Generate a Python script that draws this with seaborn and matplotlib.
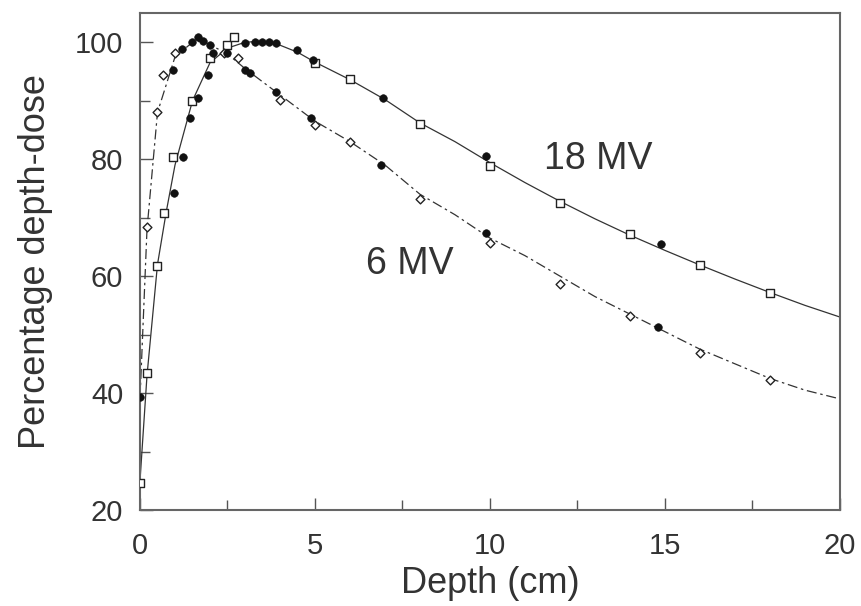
# Percentage depth-dose curves for 6 MV and 18 MV photon beams
import matplotlib
matplotlib.use("Agg")
import matplotlib.pyplot as plt
import numpy as np
import pandas as pd
import seaborn as sns
from matplotlib.ticker import MultipleLocator

# fitted curves
depth_18 = [0, 0.2, 0.5, 0.75, 1.0, 1.5, 2.0, 2.5, 3.0, 3.5, 4.0, 4.5, 5.0, 6, 7, 8,
            9, 10, 11, 12, 13, 14, 15, 16, 17, 18, 19, 20]
pdd_18 = [25, 43, 62, 71, 79, 90, 96.5, 99, 100, 100.2, 99.5, 98.3, 96.6, 93.6, 90.2, 86.2,
          83, 79.4, 76, 72.8, 69.8, 67, 64.4, 61.9, 59.5, 57.2, 55, 53]
depth_6 = [0, 0.2, 0.5, 1.0, 1.5, 1.8, 2.5, 3.0, 4.0, 5.0, 6, 7, 8, 9, 10, 11, 12,
           13, 14, 15, 16, 17, 18, 19, 20]
pdd_6 = [39, 68, 88, 97.5, 100, 100.2, 98, 95.5, 91, 86.5, 83, 79, 74, 70.5, 66.5, 63.5, 60,
         56.5, 53.5, 50.5, 47.5, 45, 42.5, 40.5, 39]

# measured points
sq18_x = [0, 0.2, 0.5, 0.7, 0.95, 1.5, 2.0, 2.5, 2.7, 5.0, 6, 8, 10, 12, 14, 16, 18]
sq18_y = [24.6, 43.4, 61.7, 70.8, 80.3, 90, 97.3, 99.5, 100.9, 96.4, 93.8, 86, 78.8, 72.5,
          67.2, 61.9, 57.1]
dot18_x = [0.97, 1.23, 1.43, 1.66, 1.94, 2.5, 3.0, 3.3, 3.5, 3.7, 3.9, 4.5, 4.95, 6.95, 9.9, 14.9]
dot18_y = [74.2, 80.3, 87, 90.4, 94.4, 98.1, 99.8, 100, 100, 100, 99.8, 98.6, 97, 90.4, 80.5, 65.5]
op6_x = [0.2, 0.5, 0.66, 1.0, 2.4, 2.8, 4, 5, 6, 8, 10, 12, 14, 16, 18]
op6_y = [68.4, 88, 94.4, 98.1, 98.1, 97.3, 90.1, 85.8, 82.9, 73.2, 65.6, 58.6, 53.2, 46.8, 42.2]
dot6_x = [0, 0.95, 1.2, 1.5, 1.65, 1.8, 2.0, 2.1, 3.0, 3.15, 3.9, 4.9, 6.9, 9.9, 14.8]
dot6_y = [39.3, 95.2, 98.8, 100, 100.9, 100.3, 99.5, 98.1, 95.2, 94.7, 91.5, 87, 79, 67.3, 51.3]

sns.set_style("ticks")
plt.rcParams['font.family'] = ['Liberation Sans', 'DejaVu Sans']

fig = plt.figure(figsize=(8.61, 6.06), dpi=100)
ax = fig.add_axes([0.1626, 0.1584, 0.8130, 0.8201])

ink = "#333333"
sns.lineplot(x=depth_18, y=pdd_18, ax=ax, color=ink, lw=0.9, linestyle="-")
sns.lineplot(x=depth_6, y=pdd_6, ax=ax, color=ink, lw=0.9, linestyle=(0, (8, 3, 2, 3)))

sns.scatterplot(x=sq18_x, y=sq18_y, ax=ax, marker="s", s=30, facecolor="white",
                edgecolor="#222222", linewidth=1.0, zorder=3)
sns.scatterplot(x=op6_x, y=op6_y, ax=ax, marker="D", s=20, facecolor="white",
                edgecolor="#222222", linewidth=1.0, zorder=3)
sns.scatterplot(x=dot18_x, y=dot18_y, ax=ax, marker="o", s=30, color="#111111",
                edgecolor="#111111", zorder=4)
sns.scatterplot(x=dot6_x, y=dot6_y, ax=ax, marker="o", s=30, color="#111111",
                edgecolor="#111111", zorder=4)

ax.set_xlim(0, 20)
ax.set_ylim(20, 105)
ax.xaxis.set_major_locator(MultipleLocator(5))
ax.xaxis.set_minor_locator(MultipleLocator(2.5))
ax.yaxis.set_major_locator(MultipleLocator(20))
ax.yaxis.set_minor_locator(MultipleLocator(10))
ax.tick_params(which="both", direction="in", colors="#555555", labelcolor=ink,
               labelsize=21, width=1.0)
ax.tick_params(which="major", length=9)
ax.tick_params(which="minor", length=7)
ax.tick_params(axis="x", which="major", pad=16)
ax.tick_params(axis="y", which="major", pad=12)
for sp in ax.spines.values():
    sp.set_color("#666666")
    sp.set_linewidth(1.5)

ax.set_xlabel("Depth (cm)", fontsize=26, color=ink, labelpad=4)
ax.set_ylabel("Percentage depth-dose", fontsize=26, color=ink, labelpad=16)

ax.text(13.1, 80, "18 MV", fontsize=27, color=ink, ha="center", va="center")
ax.text(7.7, 62, "6 MV", fontsize=27, color=ink, ha="center", va="center")

fig.savefig("out.png", dpi=100)
